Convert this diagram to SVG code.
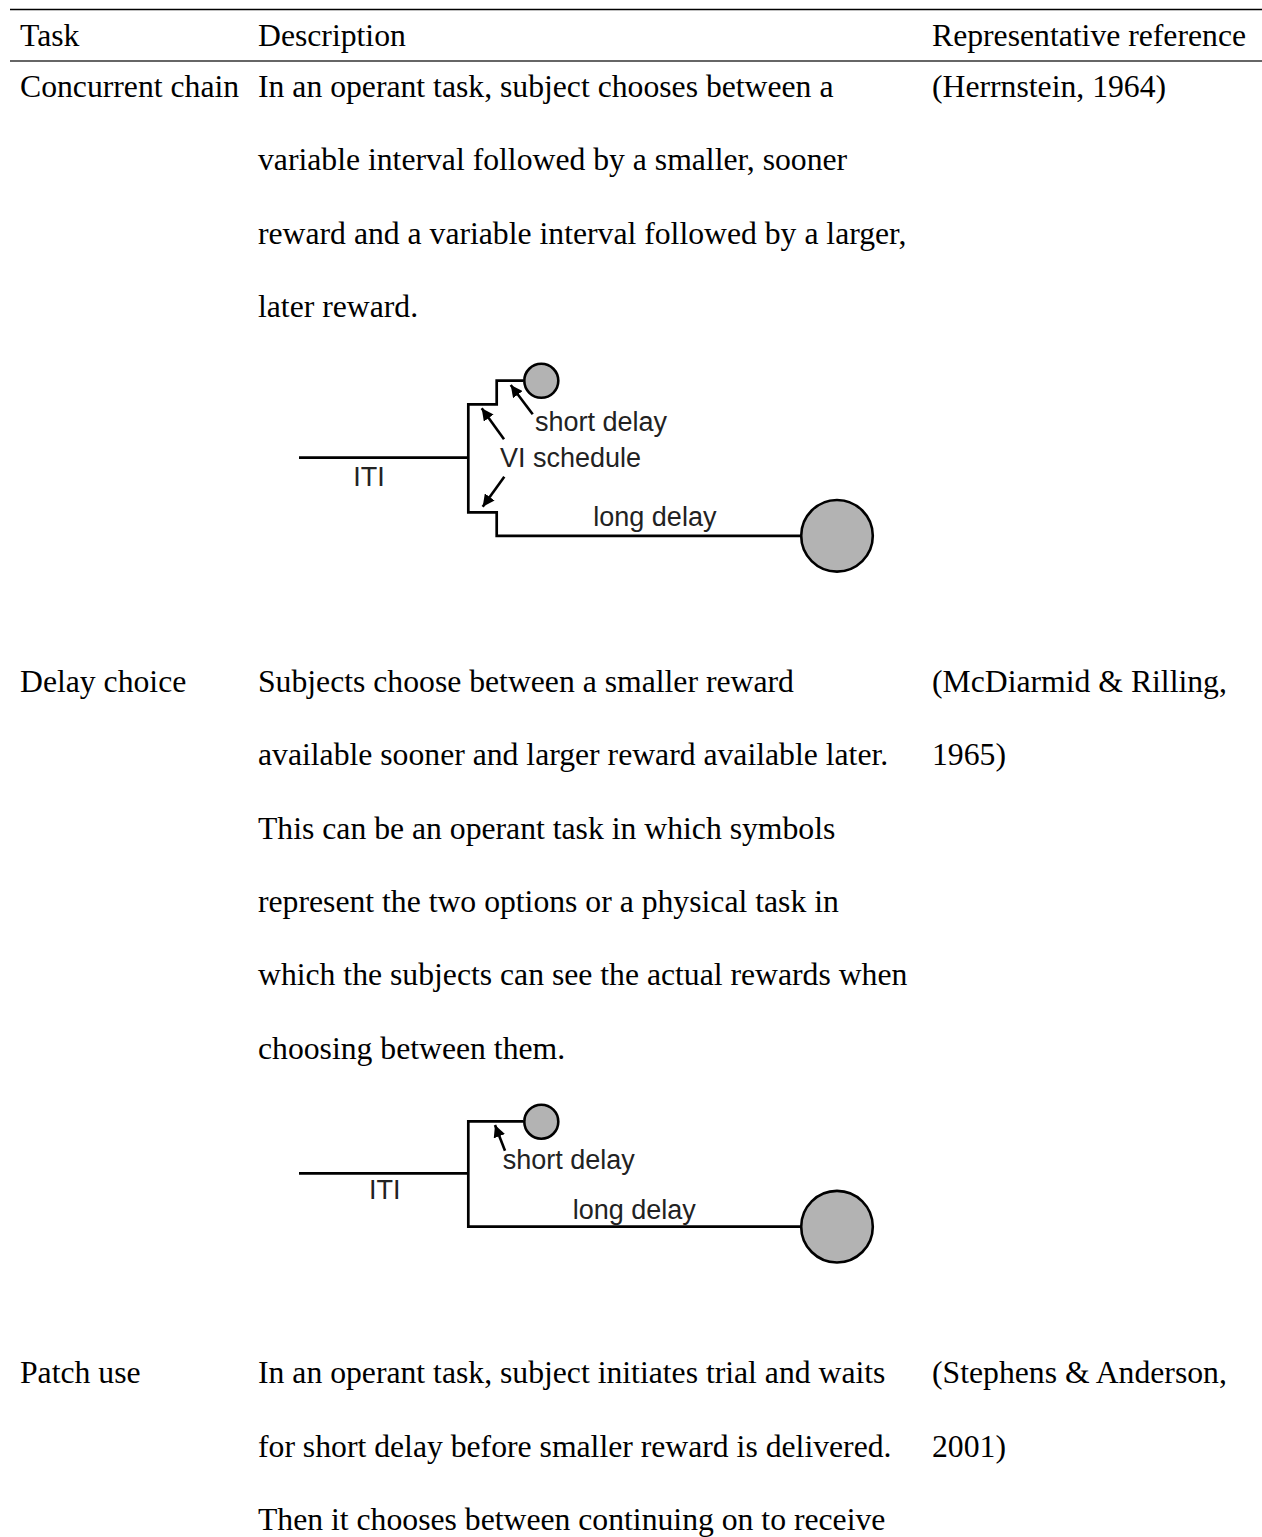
<svg xmlns="http://www.w3.org/2000/svg" width="1262" height="1537" viewBox="0 0 1262 1537">
<style>
.t{font-family:"Liberation Serif","Times New Roman",serif;font-size:31.7px;fill:#000}
.d{font-family:"Liberation Sans",Arial,sans-serif;font-size:27px;fill:#222}
.ln{fill:none;stroke:#000;stroke-width:2.7;stroke-linejoin:miter}
.ar{fill:none;stroke:#000;stroke-width:2.6}
.dot{fill:#b3b3b3;stroke:#000;stroke-width:2.6}
</style>
<defs>
<marker id="ah" markerUnits="userSpaceOnUse" markerWidth="14" markerHeight="12" refX="12" refY="6" orient="auto">
<path d="M0,0 L12,6 L0,12 Z" fill="#000"/>
</marker>
</defs>
<rect width="1262" height="1537" fill="#fff"/>
<g id="table-rules">
<line x1="10" y1="9.5" x2="1262" y2="9.5" stroke="#000" stroke-width="1.6"/>
<line x1="10" y1="61" x2="1262" y2="61" stroke="#666" stroke-width="2"/>
</g>
<g id="header">
<text class="t" x="20" y="45.7">Task</text>
<text class="t" x="258" y="45.7">Description</text>
<text class="t" x="932" y="45.7">Representative reference</text>
</g>
<g id="row-concurrent-chain">
<text class="t" x="20" y="97">Concurrent chain</text>
<text class="t" x="258" y="97">In an operant task, subject chooses between a</text>
<text class="t" x="258" y="170.4">variable interval followed by a smaller, sooner</text>
<text class="t" x="258" y="243.8">reward and a variable interval followed by a larger,</text>
<text class="t" x="258" y="317.2">later reward.</text>
<text class="t" x="932" y="97">(Herrnstein, 1964)</text>
</g>
<g id="diagram-concurrent-chain">
<g id="connectors-1">
<path class="ln" d="M299,457.7 H468.3"/>
<path class="ln" d="M523.3,380.7 H496.7 V404.3 H468.3 V512.3 H496.7 V535.8 H800"/>
<path class="ar" d="M504,439.3 L481.7,408.3" marker-end="url(#ah)"/>
<path class="ar" d="M532.7,414.3 L510.7,385" marker-end="url(#ah)"/>
<path class="ar" d="M504.3,476.7 L482.7,506.7" marker-end="url(#ah)"/>
</g>
<g id="small-reward-1"><circle class="dot" cx="541.3" cy="380.8" r="17"/></g>
<g id="large-reward-1"><circle class="dot" cx="837" cy="535.8" r="35.8"/></g>
<g id="labels-1">
<text class="d" x="369" y="486" text-anchor="middle">ITI</text>
<text class="d" x="535" y="431">short delay</text>
<text class="d" x="500" y="466.7">VI schedule</text>
<text class="d" x="593.3" y="525.7">long delay</text>
</g>
</g>
<g id="row-delay-choice">
<text class="t" x="20" y="692">Delay choice</text>
<text class="t" x="258" y="692">Subjects choose between a smaller reward</text>
<text class="t" x="258" y="765.3">available sooner and larger reward available later.</text>
<text class="t" x="258" y="838.6">This can be an operant task in which symbols</text>
<text class="t" x="258" y="911.9">represent the two options or a physical task in</text>
<text class="t" x="258" y="985.2">which the subjects can see the actual rewards when</text>
<text class="t" x="258" y="1058.5">choosing between them.</text>
<text class="t" x="932" y="692">(McDiarmid &amp; Rilling,</text>
<text class="t" x="932" y="765.3">1965)</text>
</g>
<g id="diagram-delay-choice">
<g id="connectors-2">
<path class="ln" d="M299,1173.3 H468.3"/>
<path class="ln" d="M523.3,1121.3 H468.3 V1226.7 H800"/>
<path class="ar" d="M505,1150.7 L495,1125" marker-end="url(#ah)"/>
</g>
<g id="small-reward-2"><circle class="dot" cx="541.3" cy="1121.7" r="17"/></g>
<g id="large-reward-2"><circle class="dot" cx="837" cy="1226.7" r="35.8"/></g>
<g id="labels-2">
<text class="d" x="384.7" y="1199" text-anchor="middle">ITI</text>
<text class="d" x="502.7" y="1169.3">short delay</text>
<text class="d" x="572.7" y="1219">long delay</text>
</g>
</g>
<g id="row-patch-use">
<text class="t" x="20" y="1383.3">Patch use</text>
<text class="t" x="258" y="1383.3">In an operant task, subject initiates trial and waits</text>
<text class="t" x="258" y="1456.6">for short delay before smaller reward is delivered.</text>
<text class="t" x="258" y="1529.9">Then it chooses between continuing on to receive</text>
<text class="t" x="932" y="1383.3">(Stephens &amp; Anderson,</text>
<text class="t" x="932" y="1456.6">2001)</text>
</g>
</svg>
